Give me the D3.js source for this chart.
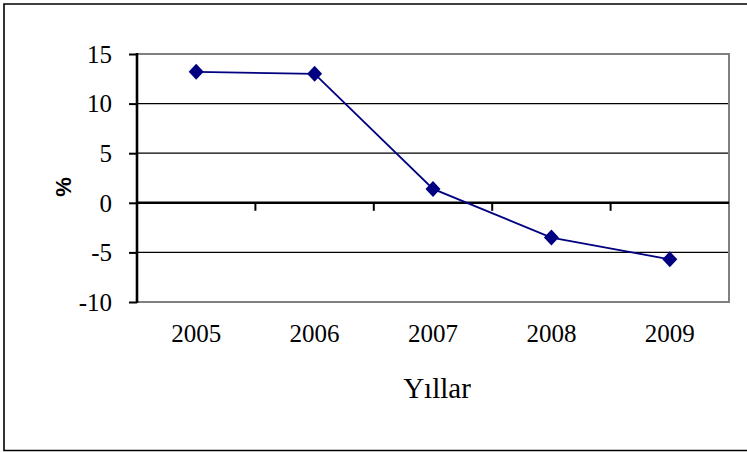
<!DOCTYPE html>
<html>
<head>
<meta charset="utf-8">
<script src="https://cdn.jsdelivr.net/npm/d3@7"></script>
<style>
  body { margin: 0; background: #fff; }
  svg { display: block; }
</style>
</head>
<body>
<svg id="svg" width="747" height="452"></svg>
<script>
const years = ['2005', '2006', '2007', '2008', '2009'];
const values = [13.2, 13.0, 1.4, -3.5, -5.7];
const yTicks = [-10, -5, 0, 5, 10, 15];

const svg = d3.select('#svg');
const plot = {left: 137, right: 729, top: 54, bottom: 302};
const serif = '"Liberation Serif", "Times New Roman", serif';

// outer frame (right side runs off the picture)
svg.append('path')
    .attr('d', 'M749,4 H4 V450.5 H749')
    .attr('fill', 'none')
    .attr('stroke', '#000')
    .attr('stroke-width', 1.6);

const xScale = d3.scaleBand()
    .domain(years)
    .range([plot.left, plot.right]);

const yScale = d3.scaleLinear()
    .domain([-10, 15])
    .range([plot.bottom, plot.top]);

// gridlines
svg.append('g').selectAll('line')
    .data(yTicks.filter(d => d !== 0 && d !== 15 && d !== -10))
    .enter().append('line')
    .attr('x1', plot.left).attr('x2', plot.right)
    .attr('y1', d => yScale(d)).attr('y2', d => yScale(d))
    .attr('stroke', '#000').attr('stroke-width', 1.2);

// plot border: top, right, bottom in gray
svg.append('path')
    .attr('d', `M${plot.left},${yScale(15)} H${plot.right} V${yScale(-10)} H${plot.left}`)
    .attr('fill', 'none')
    .attr('stroke', '#808080')
    .attr('stroke-width', 2);

// y axis
const yAxis = svg.append('g')
    .attr('transform', `translate(${plot.left},0)`)
    .call(d3.axisLeft(yScale).tickValues(yTicks).tickSize(8).tickPadding(17).tickFormat(d => String(d)));
yAxis.select('.domain').attr('stroke', '#000').attr('stroke-width', 2.6).attr('d', `M0,${yScale(-10) + 1}V${yScale(15) - 1}`);
yAxis.selectAll('.tick line').attr('stroke', '#000').attr('stroke-width', 2);
yAxis.selectAll('.tick text')
    .attr('fill', '#000')
    .attr('dy', '0.33em')
    .style('font-family', serif)
    .style('font-size', '25px');

// zero line (category axis) with ticks between categories
const zeroY = yScale(0);
svg.append('line')
    .attr('x1', plot.left).attr('x2', plot.right)
    .attr('y1', zeroY).attr('y2', zeroY)
    .attr('stroke', '#000').attr('stroke-width', 2.6);

svg.append('g').selectAll('line')
    .data(years.slice(1))
    .enter().append('line')
    .attr('x1', d => xScale(d)).attr('x2', d => xScale(d))
    .attr('y1', zeroY).attr('y2', zeroY + 8)
    .attr('stroke', '#000').attr('stroke-width', 2);

// category labels below the plot
svg.append('g').selectAll('text')
    .data(years)
    .enter().append('text')
    .attr('x', d => xScale(d) + xScale.bandwidth() / 2)
    .attr('y', 342)
    .attr('text-anchor', 'middle')
    .style('font-family', serif)
    .style('font-size', '25px')
    .text(d => d);

// series line
const line = d3.line()
    .x((d, i) => xScale(years[i]) + xScale.bandwidth() / 2)
    .y(d => yScale(d));

svg.append('path')
    .datum(values)
    .attr('d', line)
    .attr('fill', 'none')
    .attr('stroke', '#000080')
    .attr('stroke-width', 1.8);

// diamond markers
svg.append('g').selectAll('path')
    .data(values)
    .enter().append('path')
    .attr('transform', (d, i) => `translate(${xScale(years[i]) + xScale.bandwidth() / 2},${yScale(d)})`)
    .attr('d', 'M0,-8 L7.5,0 L0,8 L-7.5,0 Z')
    .attr('fill', '#000080');

// axis titles
svg.append('text')
    .attr('x', 437)
    .attr('y', 398)
    .attr('text-anchor', 'middle')
    .style('font-family', serif)
    .style('font-size', '29px')
    .text('Yıllar');

svg.append('text')
    .attr('transform', 'translate(71,187) rotate(-90)')
    .attr('text-anchor', 'middle')
    .style('font-family', '"Liberation Sans", Arial, sans-serif')
    .style('font-size', '22px')
    .style('font-weight', 'bold')
    .text('%');
</script>
</body>
</html>
